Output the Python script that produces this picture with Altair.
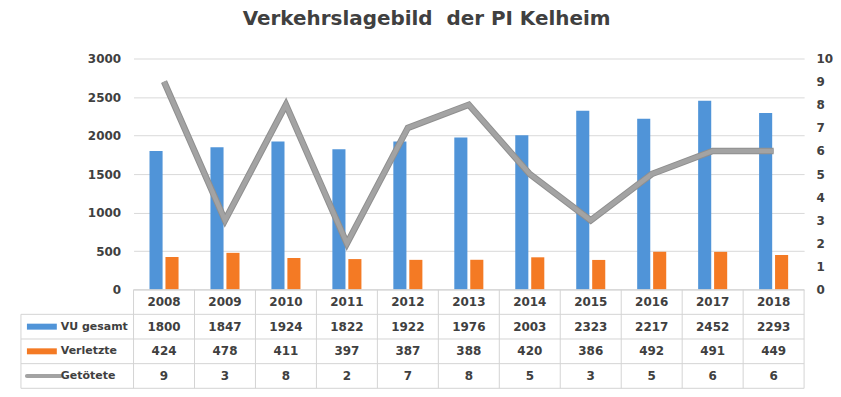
import altair as alt
import pandas as pd

years = ["2008", "2009", "2010", "2011", "2012", "2013", "2014", "2015", "2016", "2017", "2018"]
vu_gesamt = [1800, 1847, 1924, 1822, 1922, 1976, 2003, 2323, 2217, 2452, 2293]
verletzte = [424, 478, 411, 397, 387, 388, 420, 386, 492, 491, 449]
getoetete = [9, 3, 8, 2, 7, 8, 5, 3, 5, 6, 6]

series_names = ["VU gesamt", "Verletzte", "Getötete"]
series_colors = ["#5094d8", "#f47a24", "#a3a3a3"]
row_keys = ["Jahr", "VU gesamt", "Verletzte", "Getötete"]
left_ticks = [0, 500, 1000, 1500, 2000, 2500, 3000]
right_ticks = [0, 1, 2, 3, 4, 5, 6, 7, 8, 9, 10]

W = 673
H = 232
TH = 99
FONT = "DejaVu Sans"
TXT = "#404040"

bars_df = pd.DataFrame(
    [{"year": y, "series": "VU gesamt", "value": v} for y, v in zip(years, vu_gesamt)]
    + [{"year": y, "series": "Verletzte", "value": v} for y, v in zip(years, verletzte)]
)
line_df = pd.DataFrame({"year": years, "tote": getoetete})

table_rows = []
for i, y in enumerate(years):
    table_rows.append({"year": y, "row": "Jahr", "txt": y})
    table_rows.append({"year": y, "row": "VU gesamt", "txt": str(vu_gesamt[i])})
    table_rows.append({"year": y, "row": "Verletzte", "txt": str(verletzte[i])})
    table_rows.append({"year": y, "row": "Getötete", "txt": str(getoetete[i])})
table_df = pd.DataFrame(table_rows)
rows_df = pd.DataFrame({"row": row_keys})
legend_df = pd.DataFrame({"row": series_names, "series": series_names})

xscale = alt.Scale(domain=years, paddingInner=0, paddingOuter=0)
color_scale = alt.Scale(domain=series_names, range=series_colors)

bars = alt.Chart(bars_df).mark_bar().encode(
    x=alt.X("year:N", scale=xscale, axis=None),
    xOffset=alt.XOffset("series:N", scale=alt.Scale(domain=["VU gesamt", "Verletzte"], paddingInner=0.18, paddingOuter=1)),
    y=alt.Y("value:Q", scale=alt.Scale(domain=[0, 3000]),
            axis=alt.Axis(values=left_ticks, format="d", title=None, domain=False, ticks=False, labelPadding=13,
                          gridColor="#d9d9d9", labelFont=FONT, labelFontSize=12, labelFontWeight="bold",
                          labelColor=TXT, labelOverlap=False)),
    color=alt.Color("series:N", scale=color_scale, legend=None),
)

line_shadow = alt.Chart(line_df).mark_line(color="#8f8f8f", strokeWidth=6.5, strokeJoin="miter").encode(
    x=alt.X("year:N", scale=xscale, axis=None),
    y=alt.Y("tote:Q", scale=alt.Scale(domain=[0, 10]), axis=None),
)
line = alt.Chart(line_df).mark_line(color="#a3a3a3", strokeWidth=4.5, strokeJoin="miter").encode(
    x=alt.X("year:N", scale=xscale, axis=None),
    y=alt.Y("tote:Q", scale=alt.Scale(domain=[0, 10]),
            axis=alt.Axis(orient="right", values=right_ticks, format="d", title=None, domain=False, ticks=False,
                          grid=False, labelPadding=12, labelFont=FONT, labelFontSize=12, labelFontWeight="bold",
                          labelColor=TXT, labelOverlap=False)),
)

top = alt.layer(bars, line_shadow, line).resolve_scale(y="independent").properties(width=W, height=H)

yrow = alt.Y("row:N", scale=alt.Scale(domain=row_keys, paddingInner=0, paddingOuter=0), axis=None)
yrow0 = alt.Y("row:N", scale=alt.Scale(domain=row_keys, paddingInner=0, paddingOuter=0), axis=None, bandPosition=0)
GRID = "#d4d4d4"

cell_text = alt.Chart(table_df).mark_text(font=FONT, fontSize=12, fontWeight="bold", color=TXT).encode(
    x=alt.X("year:N", scale=xscale, axis=None),
    y=yrow,
    text="txt:N",
)
vlines = alt.Chart(pd.DataFrame({"year": years})).mark_rule(color=GRID, strokeWidth=1).encode(
    x=alt.X("year:N", scale=xscale, axis=None, bandPosition=0),
    y=alt.value(0), y2=alt.value(TH),
)
right_edge = alt.Chart(pd.DataFrame({"year": [years[-1]]})).mark_rule(color=GRID, strokeWidth=1).encode(
    x=alt.X("year:N", scale=xscale, axis=None, bandPosition=1),
    y=alt.value(0), y2=alt.value(TH),
)
hlines = alt.Chart(rows_df).mark_rule(color=GRID, strokeWidth=1).encode(
    y=yrow0, x=alt.value(0), x2=alt.value(W),
)
hlines_left = alt.Chart(rows_df).transform_filter(alt.datum.row != "Jahr").mark_rule(color=GRID, strokeWidth=1).encode(
    y=yrow0, x=alt.value(-113), x2=alt.value(0),
)
bottom_line = alt.Chart(rows_df).transform_filter(alt.datum.row == "Getötete").mark_rule(color=GRID, strokeWidth=1).encode(
    y=alt.Y("row:N", scale=alt.Scale(domain=row_keys, paddingInner=0, paddingOuter=0), axis=None, bandPosition=1),
    x=alt.value(-113), x2=alt.value(W),
)
left_edge = alt.Chart(rows_df).transform_filter(alt.datum.row == "VU gesamt").mark_rule(color=GRID, strokeWidth=1).encode(
    y=yrow0, y2=alt.value(TH), x=alt.value(-113),
)
row_labels = alt.Chart(legend_df).mark_text(font=FONT, fontSize=11, fontWeight="bold", color=TXT, align="left").encode(
    y=yrow, x=alt.value(-73), text="row:N",
)
sym_bars = alt.Chart(legend_df).transform_filter(alt.datum.series != "Getötete").mark_rule(strokeWidth=6).encode(
    y=yrow, x=alt.value(-107), x2=alt.value(-77),
    color=alt.Color("series:N", scale=color_scale, legend=None),
)
sym_line = alt.Chart(legend_df).transform_filter(alt.datum.series == "Getötete").mark_rule(strokeWidth=4, strokeCap="round").encode(
    y=yrow, x=alt.value(-107), x2=alt.value(-73),
    color=alt.Color("series:N", scale=color_scale, legend=None),
)

table = alt.layer(vlines, right_edge, hlines, hlines_left, bottom_line, left_edge,
                  sym_bars, sym_line, row_labels, cell_text).properties(width=W, height=TH)

chart = alt.vconcat(top, table, spacing=0, bounds="flush").properties(
    title=alt.TitleParams("Verkehrslagebild\u00a0\u00a0der PI Kelheim", font=FONT, fontSize=20, fontWeight="bold",
                          color=TXT, anchor="middle", frame="bounds", offset=24),
    padding={"left": 12, "top": 0, "right": 0, "bottom": 0},
).configure_view(stroke=None)

chart.save("out.html", embed_options={"renderer": "svg", "actions": False})
